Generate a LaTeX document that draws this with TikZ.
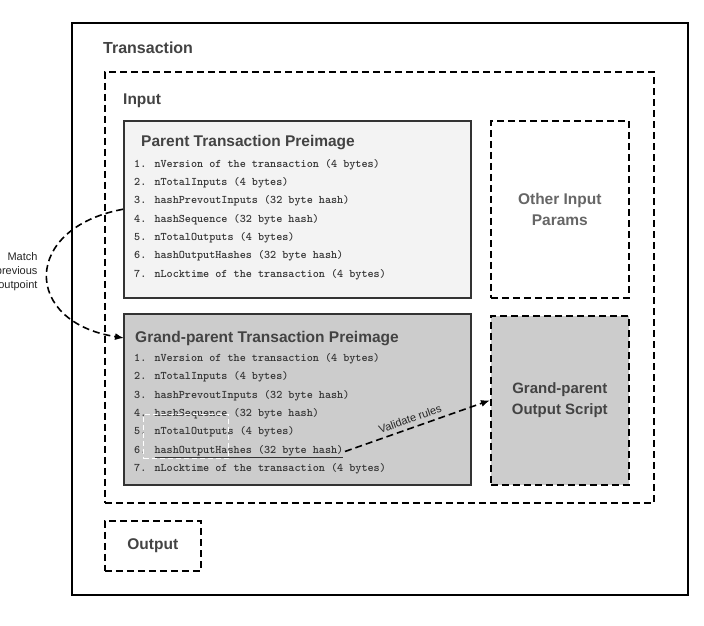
\documentclass[tikz,border=0pt]{standalone}
\usepackage{fontspec}
\setmainfont{Liberation Sans}
\usetikzlibrary{arrows.meta}
\definecolor{txt}{HTML}{434343}
\definecolor{lite}{HTML}{666666}
\definecolor{paper}{HTML}{F3F3F3}
\definecolor{shade}{HTML}{CCCCCC}
\definecolor{edge}{HTML}{333333}
\tikzset{
  solidbox/.style={draw=black, line width=1.5pt, inner sep=0pt, anchor=north west},
  preimg/.style={draw=edge, line width=1.5pt, inner sep=0pt, anchor=north west},
  dashbox/.style={draw=black, line width=1.6pt, dash pattern=on 7pt off 4pt, inner sep=0pt, anchor=north west},
  heading/.style={font=\fontsize{15.5}{18}\selectfont\bfseries, text=txt, anchor=base west, inner sep=0pt},
  item/.style={font=\fontsize{11.6}{12}\ttfamily\bfseries, text=edge, anchor=base west, inner sep=1.5pt},
  conn/.style={draw=black, line width=1.6pt, dash pattern=on 7pt off 4pt, -{Latex[length=9pt,width=7pt]}},
  note/.style={font=\fontsize{11}{14}\selectfont, text=black!85}
}
\begin{document}
\begin{tikzpicture}[x=1pt,y=-1pt]
\useasboundingbox (0,0) rectangle (704,625);
\fill[white] (0,0) rectangle (704,625);

% containers
\node[solidbox, minimum width=616, minimum height=572] (tx) at (71,22) {};
\node[heading, font=\fontsize{16}{18}\selectfont\bfseries] (txlabel) at (103,53) {Transaction};
\node[dashbox, minimum width=549, minimum height=431] (input) at (104,71) {};
\node[heading] (inlabel) at (123,104) {Input};
\node[dashbox, minimum width=96, minimum height=50] (output) at (104,520) {};
\node[font=\fontsize{15.5}{18}\selectfont\bfseries, text=txt] (outlabel) at (output.center) {Output};

% parent preimage
\node[preimg, fill=paper, minimum width=347, minimum height=177] (parent) at (123,120) {};
\node[heading] (ptitle) at (141,146) {Parent Transaction Preimage};
\node[item] (p1) at (132.5,167.0) {1. nVersion of the transaction (4 bytes)};
\node[item] (p2) at (132.5,185.3) {2. nTotalInputs (4 bytes)};
\node[item] (p3) at (132.5,203.7) {3. hashPrevoutInputs (32 byte hash)};
\node[item] (p4) at (132.5,222.0) {4. hashSequence (32 byte hash)};
\node[item] (p5) at (132.5,240.3) {5. nTotalOutputs (4 bytes)};
\node[item] (p6) at (132.5,258.7) {6. hashOutputHashes (32 byte hash)};
\node[item] (p7) at (132.5,277.0) {7. nLocktime of the transaction (4 bytes)};

% grand-parent preimage
\node[preimg, fill=shade, minimum width=347, minimum height=171] (gp) at (123,313) {};
\node[heading] (gtitle) at (135,342) {Grand-parent Transaction Preimage};
\node[item] (g1) at (132.5,361.5) {1. nVersion of the transaction (4 bytes)};
\node[item] (g2) at (132.5,379.8) {2. nTotalInputs (4 bytes)};
\node[item] (g3) at (132.5,398.2) {3. hashPrevoutInputs (32 byte hash)};
\node[item] (g4) at (132.5,416.5) {4. hashSequence (32 byte hash)};
\node[item] (g5) at (132.5,434.8) {5. nTotalOutputs (4 bytes)};
\node[item] (g6) at (132.5,453.2) {6. \underline{hashOutputHashes (32 byte hash)}};
\node[item] (g7) at (132.5,471.5) {7. nLocktime of the transaction (4 bytes)};
\node[draw=white, line width=1.2pt, dash pattern=on 5pt off 3pt, inner sep=0pt, anchor=north west, minimum width=85, minimum height=44] (mark) at (143,414) {};

% right column
\node[dashbox, minimum width=138, minimum height=177] (other) at (490,120) {};
\node[font=\fontsize{15.5}{21}\selectfont\bfseries, text=lite, align=center] (otherlabel) at (other.center) {Other Input\\Params};
\node[dashbox, fill=shade, minimum width=138, minimum height=169] (gpout) at (490,315) {};
\node[font=\fontsize{15}{21}\selectfont\bfseries, text=txt, align=center] (gpoutlabel) at (gpout.center) {Grand-parent\\Output Script};

% connectors
\coordinate (matchend) at (124,338);
\draw[conn] (parent.west) .. controls (22,228) and (22,322) .. (matchend);
\node[note, align=right, anchor=east] (matchlabel) at (41,272) {Match\\previous\\outpoint};
\draw[conn] (g6.east) -- (gpout.west) node[pos=0.47, sloped, above=1pt, font=\fontsize{11}{13}\selectfont, text=black!85] (vlabel) {Validate rules};
\end{tikzpicture}
\end{document}
